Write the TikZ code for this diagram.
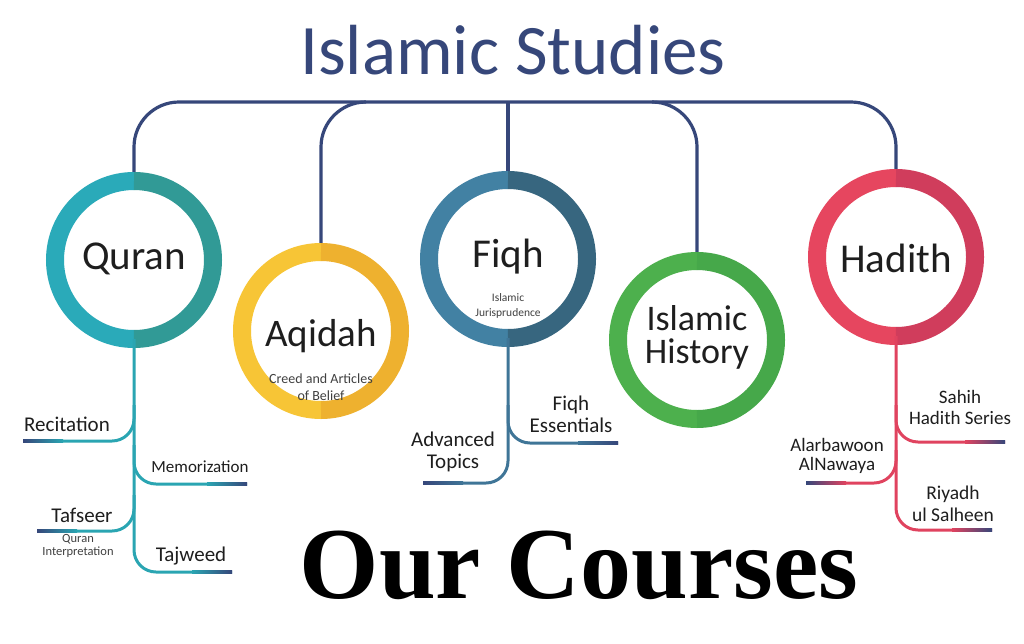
\documentclass[tikz,border=0pt]{standalone}
\usepackage{fontspec}
\setmainfont{Carlito}
\newfontfamily\headfont{Liberation Serif}
\usepackage{xcolor}
\usetikzlibrary{calc,positioning}

\definecolor{navy}{HTML}{36477A}
\definecolor{ink}{HTML}{1E1E1E}
\definecolor{quranA}{HTML}{2AAAB9}
\definecolor{quranB}{HTML}{319A96}
\definecolor{aqidahA}{HTML}{F7C536}
\definecolor{aqidahB}{HTML}{EEB12F}
\definecolor{fiqhA}{HTML}{4281A3}
\definecolor{fiqhB}{HTML}{37667F}
\definecolor{histA}{HTML}{4DB04D}
\definecolor{histB}{HTML}{46A84A}
\definecolor{hadithA}{HTML}{E6465F}
\definecolor{hadithB}{HTML}{D03D5C}
\definecolor{quranL}{HTML}{2AA5B2}
\definecolor{fiqhL}{HTML}{3F7597}
\definecolor{hadithL}{HTML}{E0435F}

\begin{document}
\begin{tikzpicture}[x=1pt,y=-1pt,
  disc/.style={circle,fill=white,minimum size=158pt,inner sep=0pt},
  ring/.style={line width=18pt},
  big/.style={font=\fontsize{41}{41}\selectfont,text=ink,inner sep=0pt},
  lbl/.style={font=\fontsize{21}{22}\selectfont,text=ink,align=center,inner sep=0pt},
  subt/.style={font=\fontsize{14}{17}\selectfont,text=ink!85,align=center,inner sep=0pt},
  br/.style={draw=navy,line width=3.2pt,rounded corners=45pt},
  leg/.style={line width=3pt,rounded corners=22pt}]
 \useasboundingbox (0,0) rectangle (1024,643);
 \fill[white] (0,0) rectangle (1024,643);

 % title and the five circles
 \node[font=\fontsize{71}{71}\selectfont,text=navy] (title) at (513,50) {Islamic Studies};
 \node[disc] (quran) at (134,260) {};
 \node[disc] (aqidah) at (321,331) {};
 \node[disc] (fiqh) at (508,259) {};
 \node[disc] (history) at (697,340) {};
 \node[disc] (hadith) at (896,257) {};
 \coordinate (top) at (512,102);

 % bracket
 \draw[br] (quran.north) |- (hadith.north |- top) -- (hadith.north);
 \draw[br] ($(aqidah.north |- top)+(45,0)$) -| (aqidah.north);
 \draw[br] ($(history.north |- top)+(-45,0)$) -| (history.north);
 \draw[br] (fiqh.north |- top) -- (fiqh.north);

 % rings, two halves each
 \draw[ring,quranA] ($(quran)+(0,-79)$) arc[start angle=270,end angle=90,radius=79];
 \draw[ring,quranB] ($(quran)+(0,-79)$) arc[start angle=-90,end angle=90,radius=79];
 \draw[ring,aqidahA] ($(aqidah)+(0,-79)$) arc[start angle=270,end angle=90,radius=79];
 \draw[ring,aqidahB] ($(aqidah)+(0,-79)$) arc[start angle=-90,end angle=90,radius=79];
 \draw[ring,fiqhA] ($(fiqh)+(0,-79)$) arc[start angle=270,end angle=90,radius=79];
 \draw[ring,fiqhB] ($(fiqh)+(0,-79)$) arc[start angle=-90,end angle=90,radius=79];
 \draw[ring,histA] ($(history)+(0,-79)$) arc[start angle=270,end angle=90,radius=79];
 \draw[ring,histB] ($(history)+(0,-79)$) arc[start angle=-90,end angle=90,radius=79];
 \draw[ring,hadithA] ($(hadith)+(0,-79)$) arc[start angle=270,end angle=90,radius=79];
 \draw[ring,hadithB] ($(hadith)+(0,-79)$) arc[start angle=-90,end angle=90,radius=79];

 \node[big] (quranT) at (134,259) {Quran};
 \node[big,font=\fontsize{39}{39}\selectfont] (aqidahT) at (321,336) {Aqidah};
 \node[subt] (aqidahS) at (321,387) {Creed and Articles\\of Belief};
 \node[big] (fiqhT) at (508,257) {Fiqh};
 \node[subt,font=\fontsize{11.5}{15}\selectfont] (fiqhS) at (508,306) {Islamic\\Jurisprudence};
 \node[big,align=center,font=\fontsize{36}{33}\selectfont] (historyT) at (697,337) {Islamic\\History};
 \node[big] (hadithT) at (896,258) {Hadith};

 % Quran branches
 \coordinate (recE) at (23,441);
 \coordinate (memE) at (247,484);
 \coordinate (tafE) at (37,531);
 \coordinate (tajE) at (232,572);
 \draw[leg,quranL] (quran.south) |- (tajE);
 \draw[leg,quranL] (134,405) |- (recE);
 \draw[leg,quranL] (134,445) |- (memE);
 \draw[leg,quranL] (134,495) |- (tafE);
 \shade[left color=navy,right color=quranL] ($(recE)+(0,-1.5)$) rectangle ($(recE)+(40,1.5)$);
 \shade[left color=navy,right color=quranL] ($(tafE)+(0,-1.5)$) rectangle ($(tafE)+(40,1.5)$);
 \shade[left color=quranL,right color=navy] ($(memE)+(-40,-1.5)$) rectangle ($(memE)+(0,1.5)$);
 \shade[left color=quranL,right color=navy] ($(tajE)+(-40,-1.5)$) rectangle ($(tajE)+(0,1.5)$);
 \node[lbl] (rec) at (67,424) {Recitation};
 \node[lbl,font=\fontsize{17}{18}\selectfont] (mem) at (200,467) {Memorization};
 \node[lbl] (taf) at (82,515) {Tafseer};
 \node[subt,font=\fontsize{12.5}{13}\selectfont] (tafS) at (78,546) {Quran\\Interpretation};
 \node[lbl] (taj) at (191,556) {Tajweed};

 % Fiqh branches
 \coordinate (advE) at (423,483);
 \coordinate (essE) at (618,443);
 \draw[leg,fiqhL] (fiqh.south) |- (advE);
 \draw[leg,fiqhL] (508,405) |- (essE);
 \shade[left color=navy,right color=fiqhL] ($(advE)+(0,-1.5)$) rectangle ($(advE)+(40,1.5)$);
 \shade[left color=fiqhL,right color=navy] ($(essE)+(-40,-1.5)$) rectangle ($(essE)+(0,1.5)$);
 \node[lbl] (adv) at (453,452) {Advanced\\Topics};
 \node[lbl] (ess) at (571,414) {Fiqh\\Essentials};

 % Hadith branches
 \coordinate (sahE) at (1005,442);
 \coordinate (alaE) at (806,483);
 \coordinate (riyE) at (992,530);
 \draw[leg,hadithL] (hadith.south) |- (riyE);
 \draw[leg,hadithL] (896,405) |- (sahE);
 \draw[leg,hadithL] (896,450) |- (alaE);
 \shade[left color=hadithL,right color=navy] ($(sahE)+(-40,-1.5)$) rectangle ($(sahE)+(0,1.5)$);
 \shade[left color=navy,right color=hadithL] ($(alaE)+(0,-1.5)$) rectangle ($(alaE)+(40,1.5)$);
 \shade[left color=hadithL,right color=navy] ($(riyE)+(-40,-1.5)$) rectangle ($(riyE)+(0,1.5)$);
 \node[lbl,font=\fontsize{19}{21}\selectfont] (sah) at (960,407) {Sahih\\Hadith Series};
 \node[lbl,font=\fontsize{19}{19}\selectfont] (ala) at (837,456) {Alarbawoon\\AlNawaya};
 \node[lbl,font=\fontsize{19.5}{22}\selectfont] (riy) at (953,504) {Riyadh\\ul Salheen};

 \node[font=\headfont\bfseries\fontsize{102}{102}\selectfont,text=black] (courses) at (579,565) {Our Courses};
\end{tikzpicture}
\end{document}
